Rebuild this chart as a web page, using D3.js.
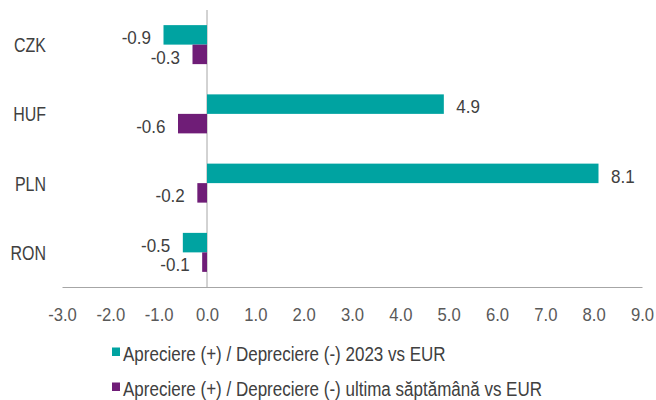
<!DOCTYPE html>
<html lang="en">
<head>
    <meta charset="utf-8"/>
    <script src="https://d3js.org/d3.v7.min.js"></script>
    <style>
        body { margin: 0; background: #fff; }
        text { font-family: "Liberation Sans", Arial, sans-serif; }
    </style>
</head>
<body>

<script>
    // Data
    var currencies = ["CZK", "HUF", "PLN", "RON"];
    var change2023 = [-0.9, 4.9, 8.1, -0.5];
    var changeWeek = [-0.3, -0.6, -0.2, -0.1];
    var xTicks = [-3, -2, -1, 0, 1, 2, 3, 4, 5, 6, 7, 8, 9];
    var seriesNames = [
        "Apreciere (+) / Depreciere (-) 2023 vs EUR",
        "Apreciere (+) / Depreciere (-) ultima săptămână vs EUR"
    ];
    var colors = ["#00a3a1", "#6f1d77"];

    var width = 656, height = 400;
    var plot = {left: 62, right: 642, top: 10, bottom: 287};

    var svg = d3.select("body")
        .append("svg")
        .attr("width", width)
        .attr("height", height);

    // the original uses a narrow font, so squeeze the text horizontally
    function squeeze(sel, f) {
        sel.each(function() {
            var w = this.getComputedTextLength();
            d3.select(this)
                .attr("textLength", w * f)
                .attr("lengthAdjust", "spacingAndGlyphs");
        });
    }

    var fmt = function(v) { return d3.format(".1f")(v).replace("−", "-"); };

    var x = d3.scaleLinear()
        .domain([-3, 9])
        .range([plot.left, plot.right]);

    var y = d3.scaleBand()
        .domain(currencies)
        .range([plot.top, plot.bottom]);

    var barH = 19.5;

    // x axis
    var xAxis = svg.append("g")
        .attr("transform", "translate(0," + plot.bottom + ")")
        .call(d3.axisBottom(x)
            .tickValues(xTicks)
            .tickSize(0)
            .tickPadding(21)
            .tickFormat(fmt));
    xAxis.select(".domain").attr("stroke", "#a6a6a6");
    xAxis.selectAll("text")
        .attr("fill", "#595959")
        .style("font-size", "18.5px")
        .call(squeeze, 0.9);

    // zero line
    svg.append("line")
        .attr("x1", x(0)).attr("x2", x(0))
        .attr("y1", plot.top).attr("y2", plot.bottom)
        .attr("stroke", "#a6a6a6");

    // category labels
    svg.selectAll(".cat")
        .data(currencies)
        .enter()
        .append("text")
        .attr("class", "cat")
        .attr("x", 46)
        .attr("y", function(d) { return y(d) + y.bandwidth() / 2 + 7.5; })
        .attr("text-anchor", "end")
        .attr("fill", "#404040")
        .style("font-size", "21px")
        .text(function(d) { return d; })
        .call(squeeze, 0.76);

    var series = [change2023, changeWeek];

    series.forEach(function(vals, i) {
        var rows = currencies.map(function(c, j) { return {cat: c, v: vals[j]}; });
        function top(d) { return y(d.cat) + y.bandwidth() / 2 - barH + i * barH; }

        svg.selectAll(".bar" + i)
            .data(rows)
            .enter()
            .append("rect")
            .attr("class", "bar" + i)
            .attr("x", function(d) { return x(Math.min(0, d.v)); })
            .attr("y", top)
            .attr("width", function(d) { return Math.abs(x(d.v) - x(0)); })
            .attr("height", barH)
            .attr("fill", colors[i]);

        svg.selectAll(".lab" + i)
            .data(rows)
            .enter()
            .append("text")
            .attr("class", "lab" + i)
            .attr("x", function(d) { return d.v < 0 ? x(d.v) - 12.5 : x(d.v) + 12.5; })
            .attr("y", function(d) { return top(d) + barH - 0.5; })
            .attr("text-anchor", function(d) { return d.v < 0 ? "end" : "start"; })
            .attr("fill", "#404040")
            .style("font-size", "18.5px")
            .text(function(d) { return fmt(d.v); })
            .call(squeeze, 0.92);
    });

    // legend
    var legend = svg.selectAll(".legend")
        .data(seriesNames)
        .enter()
        .append("g")
        .attr("class", "legend")
        .attr("transform", function(d, i) { return "translate(112," + (361 + i * 35) + ")"; });

    legend.append("rect")
        .attr("x", 0).attr("y", -13.5)
        .attr("width", 8).attr("height", 8.5)
        .attr("fill", function(d, i) { return colors[i]; });

    legend.append("text")
        .attr("x", 11)
        .attr("fill", "#404040")
        .style("font-size", "20px")
        .text(function(d) { return d; })
        .call(squeeze, 0.85);
</script>
</body>
</html>
